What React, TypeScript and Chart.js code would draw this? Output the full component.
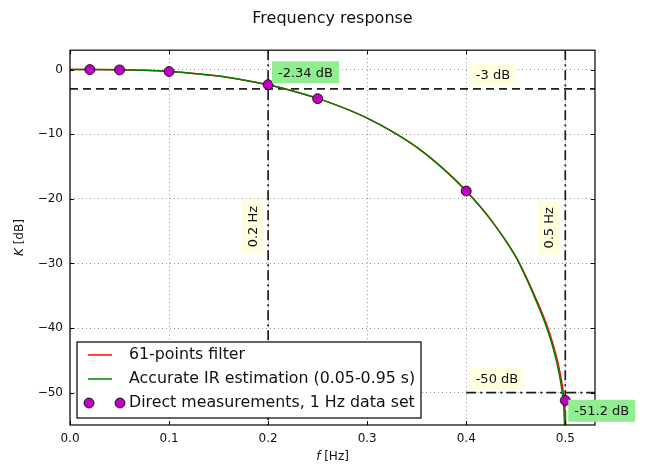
import React, { useEffect, useRef } from 'react';
import { Chart, registerables } from 'chart.js';
Chart.register(...registerables);

// ---- data ----
const accurateF = [0, 0.02, 0.05, 0.075, 0.1, 0.125, 0.15, 0.175, 0.2, 0.225, 0.25, 0.275, 0.3, 0.325, 0.35, 0.375, 0.4, 0.425, 0.45, 0.46, 0.47, 0.48, 0.485, 0.49, 0.4935, 0.496, 0.4975, 0.4988, 0.4996];
const accurateK = [0, -0.003, -0.04, -0.12, -0.3, -0.6, -1.0, -1.6, -2.35, -3.3, -4.45, -5.85, -7.5, -9.55, -12.0, -15.1, -18.8, -23.3, -29.0, -32.1, -35.6, -39.4, -41.7, -44.4, -46.8, -49.0, -50.7, -53.2, -56.5];
const filterF = [0, 0.02, 0.05, 0.075, 0.1, 0.125, 0.15, 0.175, 0.2, 0.225, 0.25, 0.275, 0.3, 0.325, 0.35, 0.375, 0.4, 0.425, 0.45, 0.46, 0.47, 0.48, 0.485, 0.49, 0.4935, 0.496, 0.4975, 0.4988, 0.4996, 0.5003, 0.501];
const filterK = [0, -0.003, -0.04, -0.12, -0.3, -0.6, -1.0, -1.6, -2.35, -3.3, -4.45, -5.85, -7.5, -9.55, -12.0, -15.1, -18.8, -23.25, -28.9, -31.9, -35.3, -39.0, -41.2, -43.8, -46.0, -48.0, -49.4, -51.0, -52.5, -54.5, -58.0];
const measF = [0.02, 0.05, 0.1, 0.2, 0.25, 0.4, 0.5];
const measK = [0.0, -0.05, -0.3, -2.34, -4.5, -18.8, -51.2];

const xTicks = [0, 0.1, 0.2, 0.3, 0.4, 0.5];
const yTicks = [0, -10, -20, -30, -40, -50];
const xRange = [0, 0.53];
const yRange = [-55, 3];

const legendLabels = ['61-points filter', 'Accurate IR estimation (0.05-0.95 s)', 'Direct measurements, 1 Hz data set'];

const refLevels = [-3, -50];
const refFreqs = [0.2, 0.5];
const refLevelStart = 0.4;

const annotations = [
  { text: '-2.34 dB', f: 0.2377, k: -0.42, bg: '#90ee90', rot: false },
  { text: '-3 dB', f: 0.427, k: -0.72, bg: '#ffffe0', rot: false },
  { text: '0.2 Hz', f: 0.1843, k: -24.3, bg: '#ffffe0', rot: true },
  { text: '0.5 Hz', f: 0.4834, k: -24.5, bg: '#ffffe0', rot: true },
  { text: '-50 dB', f: 0.431, k: -47.9, bg: '#ffffe0', rot: false },
  { text: '-51.2 dB', f: 0.5368, k: -52.8, bg: '#90ee90', rot: false },
];

const FONT = '"DejaVu Sans", Verdana, sans-serif';
const RED = '#ff0000';
const GREEN = '#008000';
const MAGENTA = '#bf00bf';

function pts(xs: number[], ys: number[]) {
  return xs.map((v, i) => ({ x: v, y: ys[i] }));
}

const decorPlugin = {
  id: 'decor',
  beforeDatasetsDraw(chart: any) {
    const { ctx, chartArea: a, scales } = chart;
    const x = scales.x, y = scales.y;
    ctx.save();
    ctx.beginPath();
    ctx.rect(a.left, a.top, a.right - a.left, a.bottom - a.top);
    ctx.clip();
    ctx.strokeStyle = '#1e1e1e';
    ctx.lineWidth = 1.7;
    ctx.setLineDash([8, 5]);
    let py = y.getPixelForValue(refLevels[0]);
    ctx.beginPath();
    ctx.moveTo(a.left, py);
    ctx.lineTo(a.right, py);
    ctx.stroke();
    ctx.setLineDash([10, 4, 2, 4]);
    refFreqs.forEach((f) => {
      const px = x.getPixelForValue(f);
      ctx.beginPath();
      ctx.moveTo(px, a.top);
      ctx.lineTo(px, a.bottom);
      ctx.stroke();
    });
    py = y.getPixelForValue(refLevels[1]);
    ctx.beginPath();
    ctx.moveTo(x.getPixelForValue(refLevelStart), py);
    ctx.lineTo(a.right, py);
    ctx.stroke();
    ctx.restore();
  },
  afterDatasetsDraw(chart: any) {
    const { ctx, chartArea: a, scales } = chart;
    const x = scales.x, y = scales.y;
    ctx.save();
    ctx.strokeStyle = '#000';
    ctx.lineWidth = 1.2;
    ctx.setLineDash([]);
    ctx.strokeRect(a.left, a.top, a.right - a.left, a.bottom - a.top);
    ctx.lineWidth = 1;
    xTicks.forEach((v) => {
      const px = Math.round(x.getPixelForValue(v)) + 0.5;
      ctx.beginPath();
      ctx.moveTo(px, a.bottom); ctx.lineTo(px, a.bottom - 4);
      ctx.moveTo(px, a.top); ctx.lineTo(px, a.top + 4);
      ctx.stroke();
    });
    yTicks.forEach((v) => {
      const py = Math.round(y.getPixelForValue(v)) + 0.5;
      ctx.beginPath();
      ctx.moveTo(a.left, py); ctx.lineTo(a.left + 4, py);
      ctx.moveTo(a.right, py); ctx.lineTo(a.right - 4, py);
      ctx.stroke();
    });
    ctx.font = `13px ${FONT}`;
    ctx.textAlign = 'center';
    ctx.textBaseline = 'middle';
    annotations.forEach((an) => {
      const cx = x.getPixelForValue(an.f);
      const cy = y.getPixelForValue(an.k);
      const w = ctx.measureText(an.text).width + 12;
      const h = 22;
      ctx.save();
      ctx.translate(cx, cy);
      if (an.rot) ctx.rotate(-Math.PI / 2);
      ctx.fillStyle = an.bg;
      ctx.fillRect(-w / 2, -h / 2, w, h);
      ctx.fillStyle = '#111';
      ctx.fillText(an.text, 0, 1);
      ctx.restore();
    });
    ctx.restore();
  },
  afterDraw(chart: any) {
    const { ctx, chartArea: a } = chart;
    ctx.save();
    const lx = a.left + 7, ly = a.bottom - 83, lw = 344, lh = 76;
    ctx.fillStyle = '#fff';
    ctx.fillRect(lx, ly, lw, lh);
    ctx.strokeStyle = '#000';
    ctx.lineWidth = 1.2;
    ctx.strokeRect(lx, ly, lw, lh);
    const rows = [ly + 13, ly + 37, ly + 61];
    ctx.lineWidth = 1.5;
    ctx.strokeStyle = RED;
    ctx.beginPath(); ctx.moveTo(lx + 11, rows[0]); ctx.lineTo(lx + 35, rows[0]); ctx.stroke();
    ctx.strokeStyle = GREEN;
    ctx.beginPath(); ctx.moveTo(lx + 11, rows[1]); ctx.lineTo(lx + 35, rows[1]); ctx.stroke();
    [lx + 12, lx + 43].forEach((mx) => {
      ctx.beginPath();
      ctx.arc(mx, rows[2], 5, 0, Math.PI * 2);
      ctx.fillStyle = MAGENTA;
      ctx.fill();
      ctx.lineWidth = 0.8;
      ctx.strokeStyle = '#000';
      ctx.stroke();
    });
    ctx.fillStyle = '#111';
    ctx.font = `15.8px ${FONT}`;
    ctx.textAlign = 'left';
    ctx.textBaseline = 'middle';
    legendLabels.forEach((t, i) => ctx.fillText(t, lx + 52, rows[i]));
    ctx.font = `italic 12px ${FONT}`;
    const w1 = ctx.measureText('f').width;
    ctx.font = `12px ${FONT}`;
    const w2 = ctx.measureText(' [Hz]').width;
    const xc = (a.left + a.right) / 2;
    const xty = 457;
    ctx.font = `italic 12px ${FONT}`;
    ctx.fillText('f', xc - (w1 + w2) / 2, xty);
    ctx.font = `12px ${FONT}`;
    ctx.fillText(' [Hz]', xc - (w1 + w2) / 2 + w1, xty);
    ctx.save();
    ctx.translate(20, (a.top + a.bottom) / 2);
    ctx.rotate(-Math.PI / 2);
    ctx.font = `italic 12px ${FONT}`;
    const yw1 = ctx.measureText('K').width;
    ctx.font = `12px ${FONT}`;
    const yw2 = ctx.measureText(' [dB]').width;
    ctx.font = `italic 12px ${FONT}`;
    ctx.fillText('K', -(yw1 + yw2) / 2, 0);
    ctx.font = `12px ${FONT}`;
    ctx.fillText(' [dB]', -(yw1 + yw2) / 2 + yw1, 0);
    ctx.restore();
    ctx.restore();
  },
};

export default function App() {
  const ref = useRef<HTMLCanvasElement | null>(null);
  useEffect(() => {
    if (!ref.current) return;
    const gridOpts = { color: 'rgba(0,0,0,0.42)', lineWidth: 1, drawTicks: false };
    const borderOpts = { display: false, dash: [1, 3] };
    const chart = new Chart(ref.current, {
      type: 'scatter',
      data: {
        datasets: [
          {
            label: legendLabels[2],
            data: pts(measF, measK),
            showLine: false,
            pointRadius: 5,
            pointBackgroundColor: MAGENTA,
            pointBorderColor: '#000',
            pointBorderWidth: 0.8,
            order: 1,
          } as any,
          {
            label: legendLabels[1],
            data: pts(accurateF, accurateK),
            showLine: true,
            borderColor: GREEN,
            borderWidth: 1.5,
            pointRadius: 0,
            cubicInterpolationMode: 'monotone',
            order: 2,
          },
          {
            label: legendLabels[0],
            data: pts(filterF, filterK),
            showLine: true,
            borderColor: RED,
            borderWidth: 1.5,
            pointRadius: 0,
            cubicInterpolationMode: 'monotone',
            order: 3,
          },
        ],
      },
      options: {
        responsive: false,
        animation: false,
        events: [],
        layout: { padding: { left: 0, right: 51, top: 0, bottom: 0 } },
        plugins: {
          legend: { display: false },
          tooltip: { enabled: false },
          title: {
            display: true,
            text: 'Frequency response',
            fullSize: false,
            color: '#111',
            font: { family: FONT, size: 16, weight: 'normal' },
            padding: { top: 9, bottom: 22 },
          },
        },
        scales: {
          x: {
            type: 'linear',
            min: xRange[0],
            max: xRange[1],
            afterBuildTicks: (s: any) => { s.ticks = xTicks.map((v) => ({ value: v })); },
            afterFit: (s: any) => { s.height = 39; },
            border: borderOpts,
            grid: gridOpts,
            ticks: {
              padding: 7,
              color: '#111',
              font: { family: FONT, size: 12 },
              callback: (v: any) => Number(v).toFixed(1),
            },
          },
          y: {
            type: 'linear',
            min: yRange[0],
            max: yRange[1],
            afterBuildTicks: (s: any) => { s.ticks = yTicks.map((v) => ({ value: v })); },
            afterFit: (s: any) => { s.width = 70; },
            border: borderOpts,
            grid: gridOpts,
            ticks: {
              padding: 7,
              color: '#111',
              font: { family: FONT, size: 12 },
              callback: (v: any) => (Number(v) === 0 ? '0' : '\u2212' + Math.abs(Number(v))),
            },
          },
        },
      } as any,
      plugins: [decorPlugin],
    });
    return () => chart.destroy();
  }, []);
  return (
    <div style={{ position: 'fixed', left: 0, top: 0, width: 646, height: 464, background: '#fff' }}>
      <canvas ref={ref} width={646} height={464} style={{ display: 'block' }} />
    </div>
  );
}
